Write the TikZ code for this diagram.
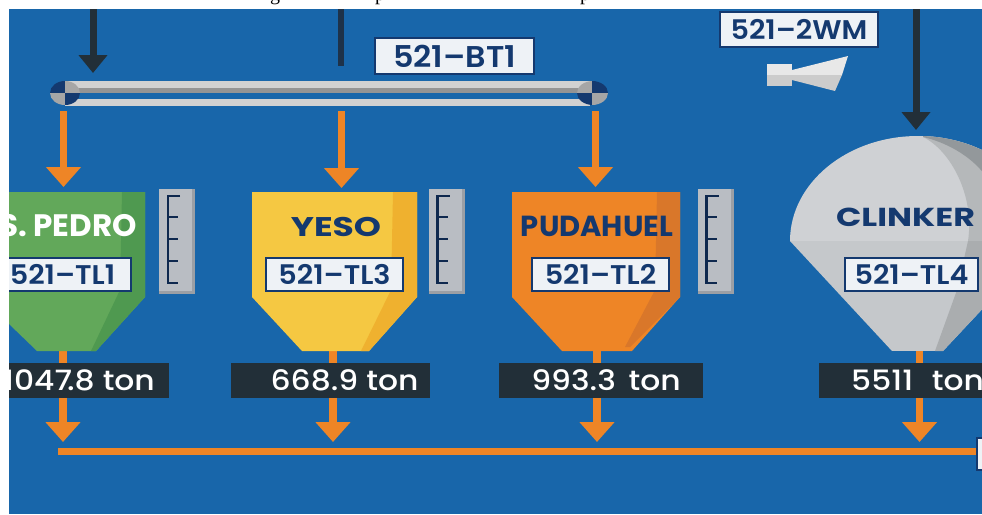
\documentclass[tikz,border=0pt]{standalone}
\usepackage{fontspec}
\setmainfont{Poppins}
\newfontfamily\capfont{Liberation Serif}
\newfontfamily\tagfont[FakeStretch=1.06]{Poppins SemiBold}
\newfontfamily\tonfont[FakeStretch=1.12]{Poppins Medium}
\newfontfamily\widefont[FakeStretch=1.28]{Poppins Bold}
\usetikzlibrary{positioning,arrows.meta}
\definecolor{panel}{HTML}{1866AA}
\definecolor{navy}{HTML}{14396F}
\definecolor{coal}{HTML}{222F38}
\definecolor{feed}{HTML}{EE8526}
\definecolor{feedshade}{HTML}{D9772A}
\definecolor{paper}{HTML}{EEF2F6}
\definecolor{pedro}{HTML}{62A85A}
\definecolor{pedroshade}{HTML}{4F9950}
\definecolor{yeso}{HTML}{F5C842}
\definecolor{yesoshade}{HTML}{EFB12F}
\definecolor{clinker}{HTML}{CFD1D4}
\definecolor{clinkerlow}{HTML}{C5C8CB}
\definecolor{clinkerside}{HTML}{B5B8BA}
\definecolor{clinkerrim}{HTML}{93989B}
\definecolor{clinkerfoot}{HTML}{AAADAF}
\definecolor{gaugebody}{HTML}{B9BDC3}
\definecolor{gaugeedge}{HTML}{9B9FA5}
\tikzset{
  tag/.style={draw=navy,line width=2pt,fill=paper,text=navy,font=\tagfont\fontsize{27}{27}\selectfont,
    minimum height=33pt,inner sep=0pt},
  silotext/.style={font=\bfseries\fontsize{29}{29}\selectfont,inner sep=0pt},
  silowide/.style={font=\widefont\fontsize{27}{27}\selectfont,inner sep=0pt},
  weight/.style={fill=coal,text=white,font=\tonfont\fontsize{28}{28}\selectfont,minimum height=35pt,inner sep=0pt},
  capletter/.style={anchor=base,inner sep=0pt,font=\capfont\fontsize{20}{20}\selectfont},
  feedline/.style={draw=feed,line width=7.5pt,-{Triangle[length=20pt,width=34pt]}},
  coalline/.style={draw=coal,line width=7pt,-{Triangle[length=18pt,width=28pt]}}
}
\begin{document}
\begin{tikzpicture}[x=1pt,y=-1pt]
  \useasboundingbox (0,0) rectangle (982,514);
  % cut-off title line
  \node[capletter] (capa) at (275,0) {g};
  \node[capletter] (capb) at (380,0) {p};
  \node[capletter] (capc) at (585,0) {p};
  \begin{scope}
    \clip (9,9) rectangle (982,514);
    \fill[panel] (9,9) rectangle (982,514);
    % free ends of the connectors
    \coordinate (inA) at (93,9);      \coordinate (inAend) at (93,73);
    \coordinate (inB) at (341,9);     \coordinate (inBend) at (341,66);
    \coordinate (inC) at (916,9);     \coordinate (inCend) at (916,130);
    \coordinate (pipeG) at (63.5,111); \coordinate (silotopG) at (63.5,187);
    \coordinate (pipeY) at (341.5,111); \coordinate (silotopY) at (341.5,188);
    \coordinate (pipeO) at (595.5,111); \coordinate (silotopO) at (595.5,187);
    \coordinate (outG) at (63,351);   \coordinate (outGend) at (63,442);
    \coordinate (outY) at (333,351);  \coordinate (outYend) at (333,442);
    \coordinate (outO) at (597,351);  \coordinate (outOend) at (597,442);
    \coordinate (outC) at (919.5,351); \coordinate (outCend) at (919.5,442);
    \coordinate (busL) at (58,451.5);  \coordinate (busR) at (978,451.5);
    % top feeds
    \draw[coalline] (inA) -- (inAend);
    \draw[line width=6pt,draw=coal!70!navy] (inB) -- (inBend);
    \draw[coalline] (inC) -- (inCend);
    % belt
    \fill[black!18] (65,81) rectangle (590,88);
    \fill[black!42] (65,88) rectangle (590,93);
    \fill[black!18] (65,99) rectangle (590,106);
    \fill[navy] (65,93) -- (50,93) arc[start angle=180,end angle=90,x radius=15,y radius=-12] -- cycle;
    \fill[black!35] (65,93) -- (80,93) arc[start angle=0,end angle=90,x radius=15,y radius=-12] -- cycle;
    \fill[black!35] (65,93) -- (50,93) arc[start angle=180,end angle=270,x radius=15,y radius=-12] -- cycle;
    \fill[navy] (65,93) -- (80,93) arc[start angle=360,end angle=270,x radius=15,y radius=-12] -- cycle;
    \fill[black!35] (592,93) -- (577,93) arc[start angle=180,end angle=90,x radius=16,y radius=-12] -- cycle;
    \fill[navy] (592,93) -- (608,93) arc[start angle=0,end angle=90,x radius=16,y radius=-12] -- cycle;
    \fill[navy] (592,93) -- (577,93) arc[start angle=180,end angle=270,x radius=16,y radius=-12] -- cycle;
    \fill[black!35] (592,93) -- (608,93) arc[start angle=360,end angle=270,x radius=16,y radius=-12] -- cycle;
    \node[tag,minimum width=159pt,minimum height=36pt,font=\tagfont\fontsize{30}{30}\selectfont] (bt) at (454.5,56) {521–BT1};
    % weigher
    \node[tag,minimum width=158pt,minimum height=35pt] (wm) at (799,29.5) {521–2WM};
    \fill[black!9] (767,64) rectangle (792,75);
    \fill[black!20] (767,75) rectangle (792,86);
    \fill[black!9] (792,70) -- (848,56) -- (842,75) -- (792,75) -- cycle;
    \fill[black!20] (792,75) -- (842,75) -- (835,91) -- (792,80) -- cycle;
    % belt to silos
    \draw[feedline] (pipeG) -- (silotopG);
    \draw[feedline] (pipeY) -- (silotopY);
    \draw[feedline] (pipeO) -- (silotopO);
    % silos to bus
    \draw[feedline] (outG) -- (outGend);
    \draw[feedline] (outY) -- (outYend);
    \draw[feedline] (outO) -- (outOend);
    \draw[feedline] (outC) -- (outCend);
    \draw[draw=feed,line width=7pt] (busL) -- (busR);
    \draw[draw=navy,line width=2pt,fill=paper] (977,438) rectangle (1000,470);
    % S. Pedro
    \fill[pedro] (-19,192) -- (145,192) -- (145,297) -- (96,351) -- (37,351) -- (-19,297) -- cycle;
    \fill[pedroshade] (122,192) -- (145,192) -- (145,297) -- (96,351) -- (91,351) -- (120,290) -- cycle;
    \node[silotext,text=white,anchor=east,font=\bfseries\fontsize{31}{31}\selectfont] (nameG) at (137,226) {S. PEDRO};
    \node[tag,minimum width=137pt] (tlG) at (62.5,274.5) {521–TL1};
    \node[weight,minimum width=200pt] (tonG) at (69,380.5) {\hspace{20pt}1047\kern-5pt.8 ton};
    % Yeso
    \fill[yeso] (252,192) -- (417,192) -- (417,297) -- (369,351) -- (302,351) -- (252,297) -- cycle;
    \fill[yesoshade] (393,192) -- (417,192) -- (417,297) -- (369,351) -- (361,351) -- (391,290) -- cycle;
    \node[silowide,text=navy] (nameY) at (336,227) {YESO};
    \node[tag,minimum width=137pt] (tlY) at (334.5,274.5) {521–TL3};
    \node[weight,minimum width=199pt] (tonY) at (330.5,380.5) {\hspace{28pt}668.9 ton};
    % Pudahuel
    \fill[feed] (512,192) -- (680,192) -- (680,297) -- (632,351) -- (562,351) -- (512,297) -- cycle;
    \fill[feedshade] (657,192) -- (680,192) -- (680,297) -- (630,347) -- (625,347) -- (655,290) -- cycle;
    \node[silotext,text=navy] (nameO) at (597,226) {PUDAHUEL};
    \node[tag,minimum width=137pt] (tlO) at (600.5,274.5) {521–TL2};
    \node[weight,minimum width=204pt] (tonO) at (601,380.5) {\hspace{10pt}993.3\, ton};
    % Clinker
    \begin{scope}
      \clip (790,241) arc[start angle=180,end angle=0,x radius=128,y radius=-105] -- (943,351) -- (892,351) -- cycle;
      \fill[clinker] (780,130) rectangle (1050,241);
      \fill[clinkerlow] (780,241) rectangle (1050,351);
      \fill[clinkerside] (923,130) -- (923,137) .. controls (950,150) and (975,195) .. (968,241) -- (1050,241) -- (1050,130) -- cycle;
      \fill[clinkerrim] (923,130) -- (923,137) .. controls (945,142) and (970,155) .. (985,175) -- (1050,175) -- (1050,130) -- cycle;
      \fill[clinkerfoot] (968,241) -- (957,290) -- (935,351) -- (1050,351) -- (1050,241) -- cycle;
    \end{scope}
    \node[silowide,text=navy,font=\widefont\fontsize{26}{26}\selectfont] (nameC) at (905.5,217) {CLINKER};
    \node[tag,minimum width=133pt] (tlC) at (911.5,274.5) {521–TL4};
    \node[weight,minimum width=220pt,anchor=west,text width=220pt,align=left] (tonC) at (819,380.5) {\hspace{32pt}5511\,\, ton};
    % level gauges
    \def\gauge{
      \fill[gaugebody] (159,189) rectangle (195,294);
      \fill[gaugeedge] (192,189) rectangle (195,294);
      \fill[gaugeedge] (159,291) rectangle (195,294);
      \draw[draw=navy!70!black,line width=2.5pt] (180,196) -- (168,196) -- (168,283) -- (178,283);
      \draw[draw=navy!70!black,line width=2.5pt] (168,217) -- (178,217);
      \draw[draw=navy!70!black,line width=2.5pt] (168,239) -- (178,239);
      \draw[draw=navy!70!black,line width=2.5pt] (168,261) -- (178,261);
    }
    \begin{scope}\gauge\end{scope}
    \begin{scope}[xshift=269.5pt]\gauge\end{scope}
    \begin{scope}[xshift=538.5pt]\gauge\end{scope}
  \end{scope}
\end{tikzpicture}
\end{document}
